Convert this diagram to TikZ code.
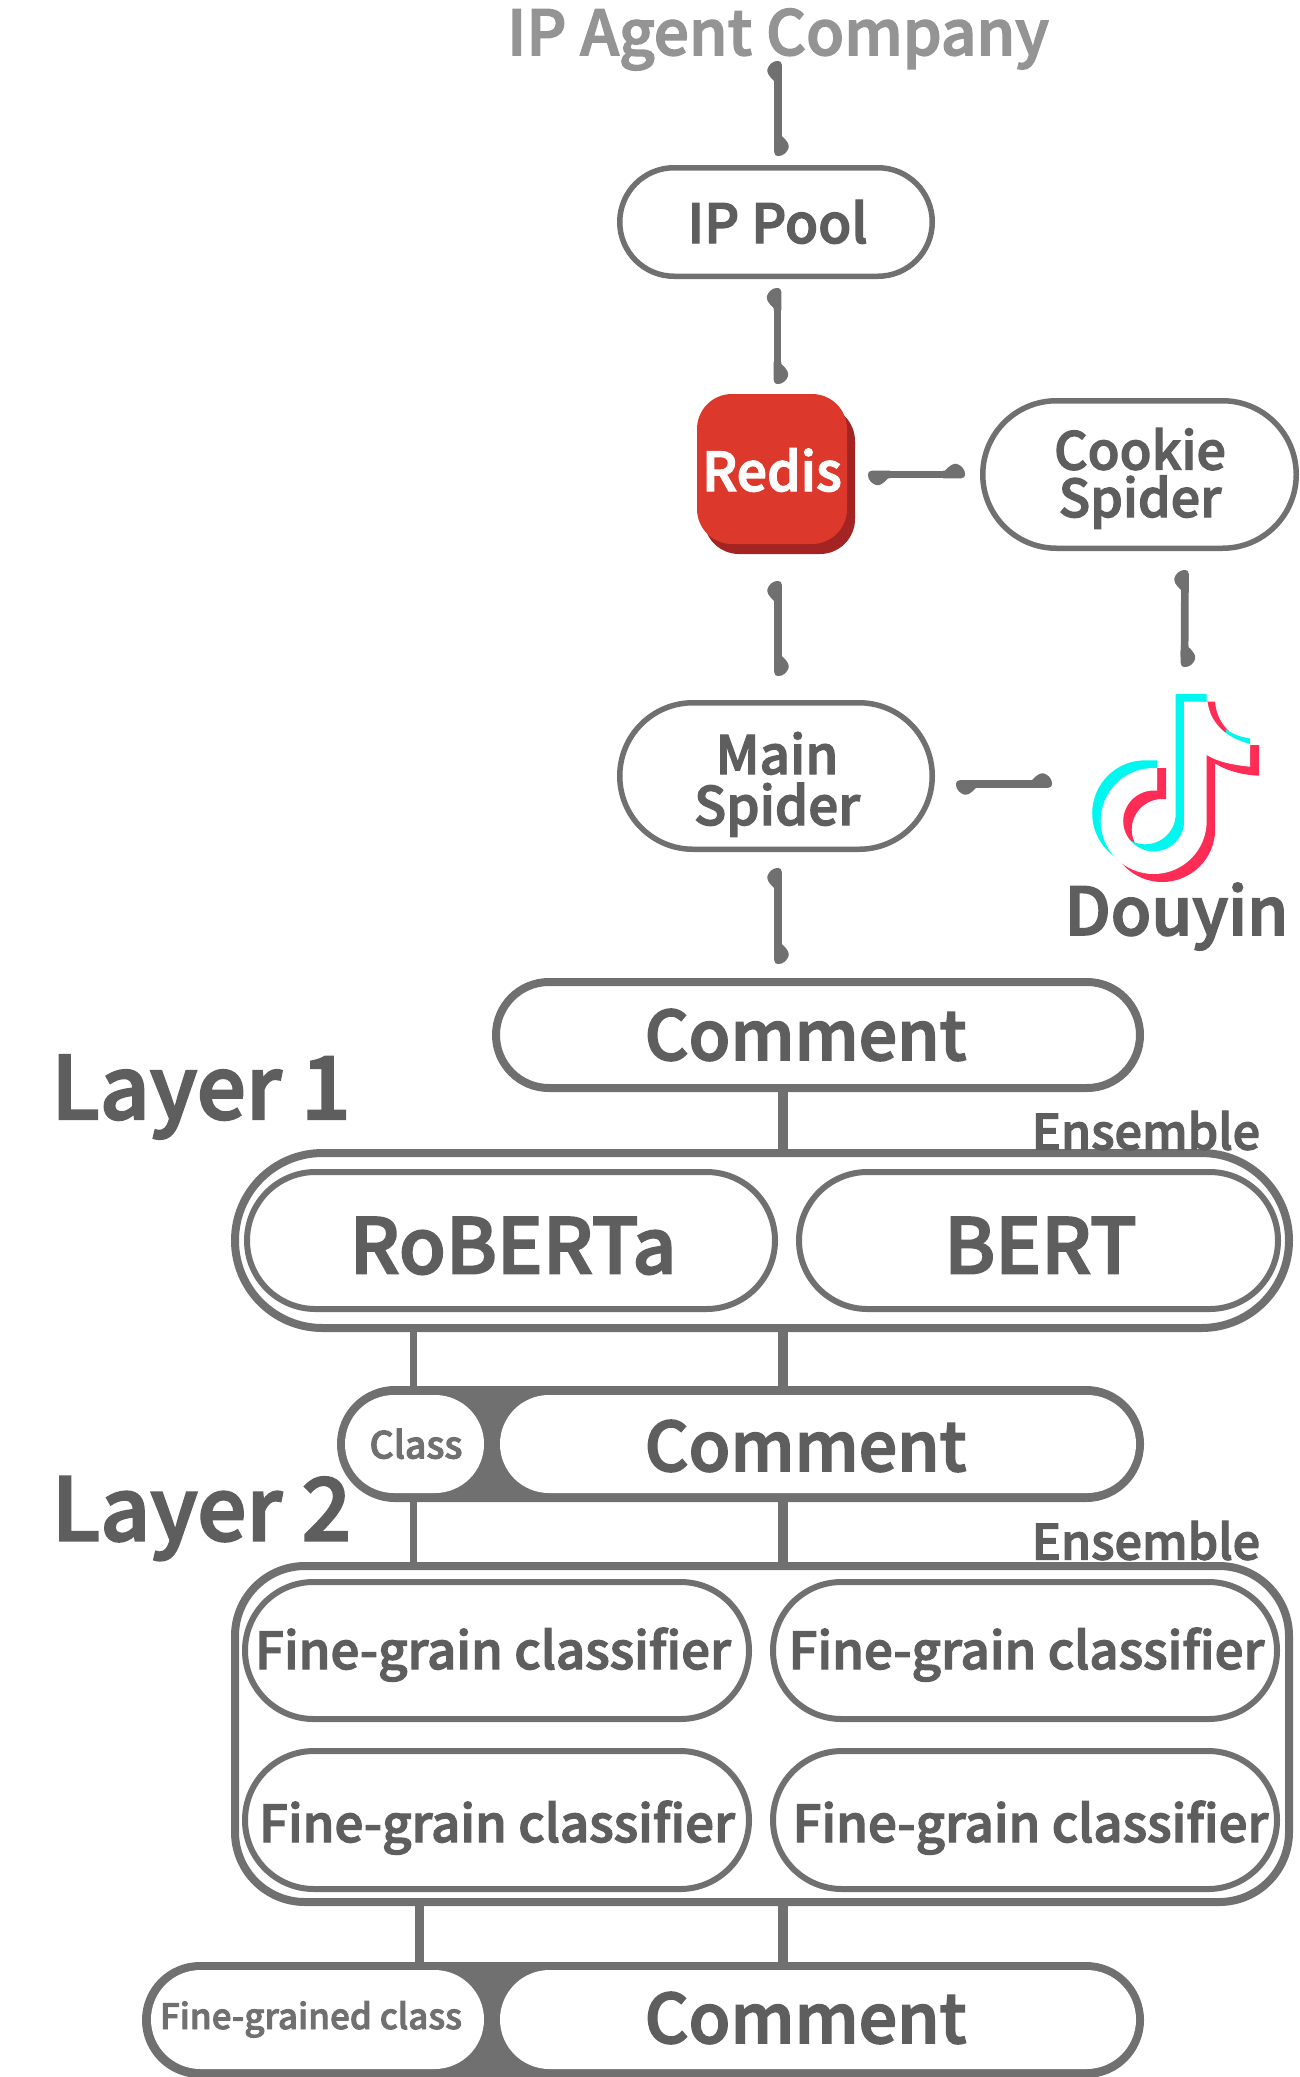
\documentclass[tikz,border=0pt]{standalone}
\usepackage{fontspec}
\setmainfont{Noto Sans CJK SC Medium}[FakeBold=2.5]
\usetikzlibrary{arrows.meta}
\definecolor{strokegray}{HTML}{707070}
\definecolor{textgray}{HTML}{5E5E5E}
\definecolor{lightgray2}{HTML}{949494}
\definecolor{redisfront}{HTML}{DC382C}
\definecolor{redisback}{HTML}{A32422}
\definecolor{logocyan}{HTML}{00F7EF}
\definecolor{logored}{HTML}{FF2C55}
\pgfdeclarearrow{
  name=Blob,
  setup code={
    \pgfarrowssettipend{0pt}
    \pgfarrowssetlineend{-10pt}
    \pgfarrowssetvisualbackend{-22pt}
    \pgfarrowssetbackend{-22pt}
  },
  drawing code={
    \pgfpathmoveto{\pgfqpoint{-22pt}{-3.85pt}}
    \pgfpathlineto{\pgfqpoint{-4pt}{-3.85pt}}
    \pgfpathcurveto{\pgfqpoint{-1.5pt}{-3.85pt}}{\pgfqpoint{0pt}{-2.5pt}}{\pgfqpoint{0pt}{1pt}}
    \pgfpathcurveto{\pgfqpoint{0pt}{5pt}}{\pgfqpoint{-4pt}{9.5pt}}{\pgfqpoint{-8pt}{10.5pt}}
    \pgfpathcurveto{\pgfqpoint{-11pt}{11.5pt}}{\pgfqpoint{-15pt}{9.5pt}}{\pgfqpoint{-20pt}{3.85pt}}
    \pgfpathlineto{\pgfqpoint{-22pt}{3.85pt}}
    \pgfpathclose
    \pgfusepathqfill
  }
}
\tikzset{
  fs/.style={font=\fontsize{#1}{#1}\selectfont},
  pillbase/.style={shape=rectangle,inner sep=0pt,outer sep=0pt,draw=strokegray,fill=white,text=textgray},
  thin box/.style={line width=5.5pt},
  model box/.style={line width=6pt},
  heavy box/.style={line width=8pt},
  solid pill/.style={draw=none,fill=white},
  grey band/.style={draw=none,fill=strokegray},
  lbl/.style={inner sep=0pt,outer sep=0pt,anchor=base,text=textgray},
  harp/.style={draw=strokegray,line width=7.7pt,{Blob}-{Blob}},
  link/.style={draw=strokegray,line width=#1}
}
% [options]{name}{x0}{y0}{x1}{y1}{text centre x}{baseline y}{text}
\newcommand\pill[9][]{%
  \pgfmathsetmacro\pcx{(#3+#5)/2}%
  \pgfmathsetmacro\pcy{(#4+#6)/2}%
  \pgfmathsetmacro\pw{#5-#3}%
  \pgfmathsetmacro\ph{#6-#4}%
  \pgfmathsetmacro\ptx{2*(#7-\pcx)}%
  \pgfmathsetmacro\pth{2*(#8-\pcy)}%
  \pgfmathsetmacro\prr{\ph/2}%
  \node[pillbase,rounded corners=\prr pt,#1,minimum width=\pw pt,minimum height=\ph pt,
        text height=\pth pt,text depth=0pt] (#2) at (\pcx,\pcy)
        {\makebox[0pt]{\hspace*{\ptx pt}#9}};%
}
\newcommand\twolines[2]{\vbox{\halign{\hfil##\hfil\cr #1\cr #2\cr}}}
\begin{document}
\begin{tikzpicture}[x=1pt,y=-1pt]
\path[use as bounding box,fill=white] (0,0) rectangle (1299,2077);

% top column
\node[lbl,fs=62,text=lightgray2] (agent) at (778,55) {IP Agent Company};
\pill[thin box,fs=54]{ippool}{619.75}{167.75}{932.25}{276.25}{777.5}{243}{IP Pool}
\fill[redisback,rounded corners=35pt] (704,406) rectangle (855,554);
\pill[solid pill,fill=redisfront,rounded corners=35pt,fs=53.5,text=white]{redis}{697}{394}{847}{544}{772}{491}{Redis}
\pill[thin box,font=\fontsize{52}{47.5}\selectfont]{cookie}{982.75}{400.75}{1296.25}{548.25}{1140}{517}{\twolines{Cookie}{Spider}}
\pill[thin box,font=\fontsize{53}{51}\selectfont]{mainsp}{619.75}{702.75}{932.25}{849.25}{777}{825}{\twolines{Main}{Spider}}

% Douyin logo
\coordinate (logotop) at (1184.5,694);
\coordinate (logoleft) at (1092,784);
\fill[logored] (1215.2,745) -- (1259,745) -- (1259,775.7) .. controls (1243,775) and (1227,771) .. (1215.2,763.5)
  -- (1215.2,829) arc[start angle=0,end angle=-270,radius=53pt]
  -- (1157,776) -- (1157,768) -- (1166,768) -- (1166,799) -- (1162.2,799)
  arc[start angle=90,end angle=360,radius=30.5pt] -- (1192.7,745) -- cycle;
\fill[logocyan] (1175.7,694) -- (1206.7,694) -- (1206.7,730) -- (1198.2,730) -- (1198.2,813.3)
  arc[start angle=0,end angle=-270,radius=53pt]
  -- (1157,760.3) -- (1157,783.3) -- (1145.2,783.3)
  arc[start angle=90,end angle=360,radius=30.5pt] -- cycle;
\fill[logored] (1200,701.7) -- (1215,701.7) .. controls (1216,715) and (1222,725) .. (1229,731) -- (1215,738) -- cycle;
\fill[logocyan] (1226,729) .. controls (1232,734) and (1240,737) .. (1250,738.5) -- (1250,750) -- (1225,745) -- cycle;
\fill[white] (1184.2,701.7) -- (1207.5,701.7) .. controls (1210,722) and (1225,738) .. (1250,744)
  -- (1250,766.7) .. controls (1233,765) and (1218,762) .. (1206.7,755)
  -- (1206.7,821) arc[start angle=0,end angle=-270,radius=53pt]
  -- (1157,768) -- (1157,790.5) -- (1153.7,790.5)
  arc[start angle=90,end angle=360,radius=30.5pt] -- cycle;
\node[lbl,fs=66] (douyin) at (1176.5,935) {Douyin};

% double-headed connectors
\draw[harp] ([yshift=-6pt]agent.base) -- ([xshift=2pt,yshift=11.75pt]ippool.north);
\draw[harp] ([xshift=1.5pt,yshift=-11.75pt]ippool.south) -- ([xshift=5.5pt,yshift=10pt]redis.north);
\draw[harp] ([xshift=6pt,yshift=-37pt]redis.south) -- ([xshift=2pt,yshift=26.75pt]mainsp.north);
\draw[harp] ([xshift=21pt,yshift=-5.5pt]redis.east) -- ([xshift=-17.75pt]cookie.west);
\draw[harp] ([xshift=45.5pt,yshift=-21.75pt]cookie.south) -- ([yshift=27pt]logotop);
\draw[harp] ([xshift=23.75pt,yshift=-8pt]mainsp.east) -- ([xshift=-40pt]logoleft);

% layer 1
\node[lbl,fs=87] (layerone) at (201,1119) {Layer 1};
\pill[heavy box,fs=68]{cmtone}{496}{982}{1140}{1088}{805.6}{1060}{Comment}
\draw[harp] ([xshift=2pt,yshift=-18.75pt]mainsp.south) -- ([xshift=-40pt,yshift=18pt]cmtone.north);
\pill[heavy box,rounded corners=87.5pt]{ensone}{235}{1153}{1289}{1328}{762}{1241}{}
\node[lbl,fs=48.5] (ensonelabel) at (1146,1149.5) {Ensemble};
\pill[model box,fs=76.5]{roberta}{247}{1172}{775}{1309}{513}{1273.5}{RoBERTa}
\pill[model box,fs=76.5]{bert}{799}{1172}{1278}{1309}{1040.5}{1273.5}{BERT}
\draw[link=9.5pt] ([xshift=-35pt]cmtone.south) -- ([xshift=21pt]ensone.north);

% middle row
\pill[grey band]{rowtwo}{337}{1386}{1144}{1502}{740}{1445}{}
\pill[solid pill,fs=37.5,text=strokegray]{classtwo}{345}{1395}{484}{1493}{416}{1458.5}{Class}
\pill[solid pill,fs=68]{cmttwo}{500}{1395}{1136}{1493}{805.6}{1471}{Comment}
\draw[link=9.5pt] ([xshift=21pt]ensone.south) -- ([xshift=42.5pt,yshift=-1pt]rowtwo.north);
\draw[link=7pt] ([xshift=-348.5pt]ensone.south) -- ([xshift=-327pt,yshift=-1pt]rowtwo.north);

% layer 2
\node[lbl,fs=87] (layertwo) at (201.5,1540.5) {Layer 2};
\pill[heavy box,rounded corners=70pt]{enstwo}{235}{1566}{1289}{1902}{762}{1735}{}
\node[lbl,fs=48.5] (enstwolabel) at (1146,1559.5) {Ensemble};
\pill[model box,fs=51]{fgaa}{245}{1582}{749}{1719}{493}{1669}{Fine-grain classifier}
\pill[model box,fs=51]{fgab}{773}{1582}{1277}{1719}{1026.5}{1669}{Fine-grain classifier}
\pill[model box,fs=51]{fgba}{245}{1751}{749}{1889}{497}{1842}{Fine-grain classifier}
\pill[model box,fs=51]{fgbb}{773}{1751}{1277}{1889}{1030.5}{1842}{Fine-grain classifier}
\draw[link=9.5pt] ([xshift=42.5pt,yshift=1pt]rowtwo.south) -- ([xshift=21pt]enstwo.north);
\draw[link=7pt] ([xshift=-327pt,yshift=1pt]rowtwo.south) -- ([xshift=-348.5pt]enstwo.north);

% bottom row
\pill[grey band]{rowthree}{142}{1962}{1144}{2078}{643}{2020}{}
\pill[solid pill,fs=35,text=strokegray]{finetext}{151}{1970}{484}{2069}{311}{2029}{Fine-grained class}
\pill[solid pill,fs=68]{cmtthree}{500}{1970}{1136}{2069}{805.6}{2043}{Comment}
\draw[link=9.5pt] ([xshift=21pt]enstwo.south) -- ([xshift=140pt,yshift=-1pt]rowthree.north);
\draw[link=9pt] ([xshift=-342.5pt]enstwo.south) -- ([xshift=-223.5pt,yshift=-1pt]rowthree.north);
\end{tikzpicture}
\end{document}
